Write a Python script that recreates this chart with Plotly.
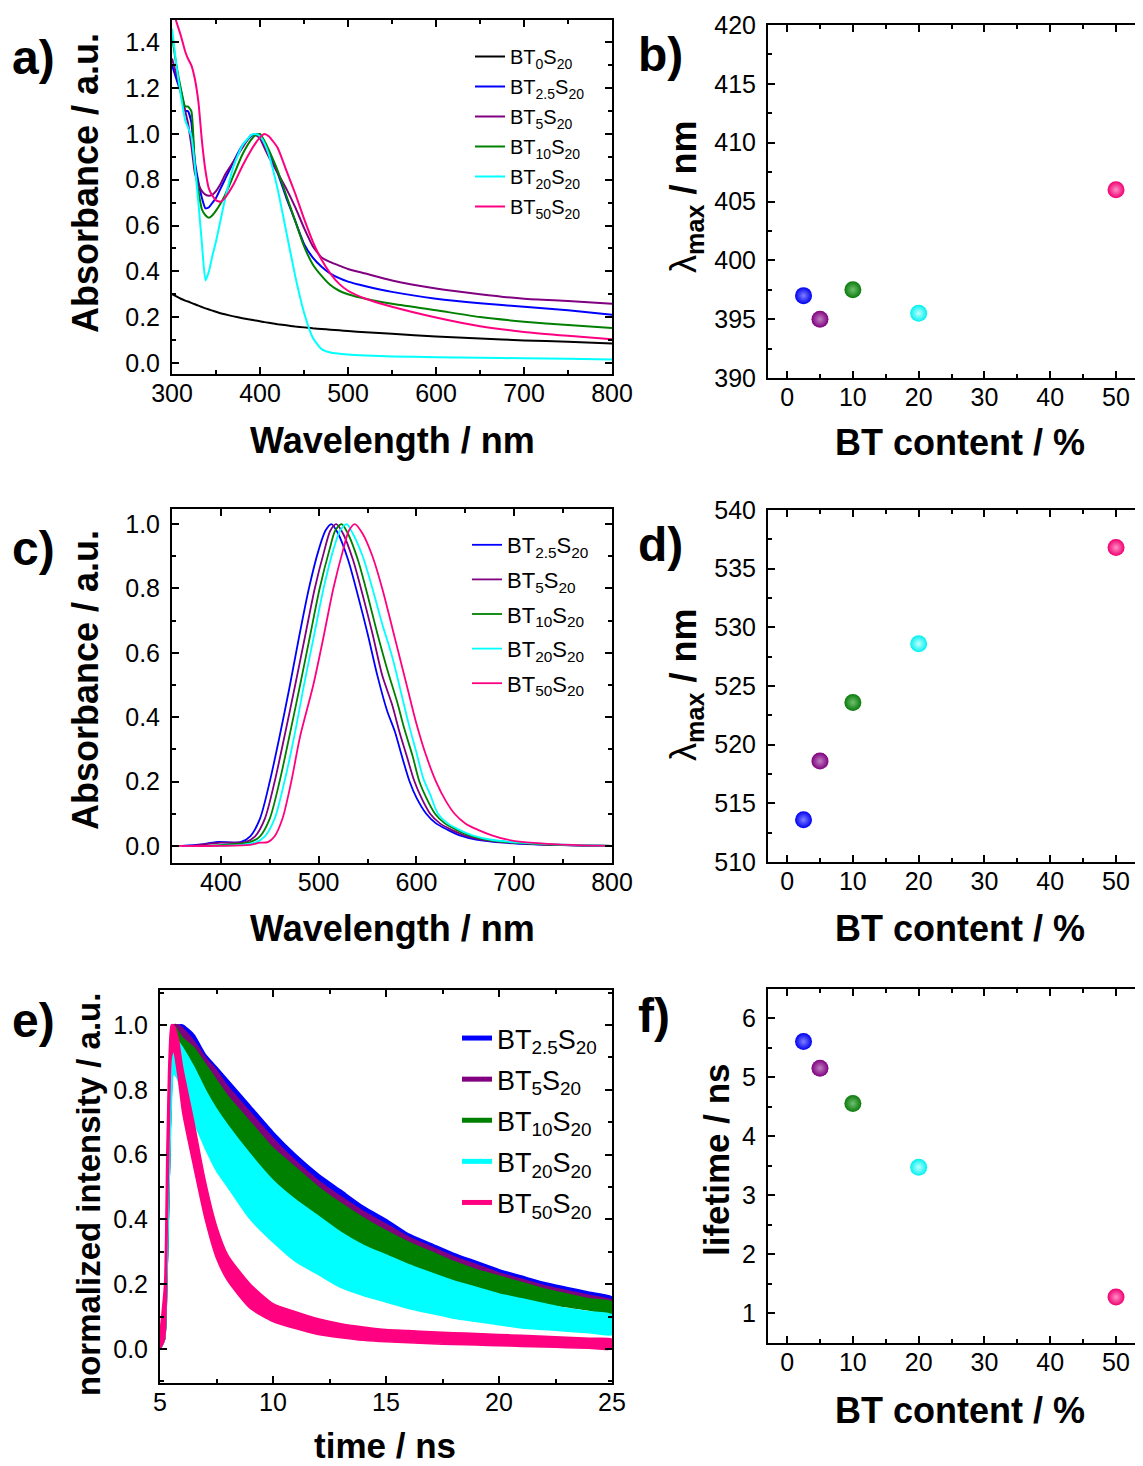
import plotly.graph_objects as go

# ---------------- DATA ----------------
SERIES_A = ["BT<sub>0</sub>S<sub>20</sub>", "BT<sub>2.5</sub>S<sub>20</sub>", "BT<sub>5</sub>S<sub>20</sub>",
            "BT<sub>10</sub>S<sub>20</sub>", "BT<sub>20</sub>S<sub>20</sub>", "BT<sub>50</sub>S<sub>20</sub>"]
COLORS_A = ["#000000", "#0000FF", "#800080", "#008000", "#00FFFF", "#FF0080"]

# panel a: absorbance spectra
WL_A = [300, 305, 310, 315, 318, 322, 326, 330, 334, 338, 342, 346, 350, 355, 360, 370, 380, 390, 395, 400,
        405, 410, 420, 430, 440, 450, 460, 470, 480, 490, 500, 520, 550, 600, 650, 700, 750, 800]
ABS_BT0 = [0.30, 0.29, 0.28, 0.272, 0.268, 0.262, 0.256, 0.25, 0.244, 0.238, 0.233, 0.228, 0.223, 0.217, 0.212,
           0.203, 0.195, 0.188, 0.185, 0.182, 0.178, 0.175, 0.169, 0.164, 0.159, 0.155, 0.151, 0.148, 0.145, 0.142,
           0.139, 0.134, 0.127, 0.115, 0.106, 0.098, 0.092, 0.085]
ABS_BT2_5 = [1.30, 1.24, 1.18, 1.10, 1.10, 1.05, 0.88, 0.79, 0.72, 0.675, 0.68, 0.70, 0.72, 0.76, 0.80, 0.88,
             0.95, 0.99, 1.0, 0.99, 0.96, 0.92, 0.83, 0.72, 0.62, 0.52, 0.46, 0.42, 0.39, 0.37, 0.355, 0.335,
             0.31, 0.28, 0.26, 0.245, 0.23, 0.21]
ABS_BT5 = [1.33, 1.26, 1.19, 1.10, 1.05, 0.95, 0.83, 0.78, 0.75, 0.735, 0.73, 0.735, 0.75, 0.78, 0.82, 0.88,
           0.94, 0.995, 0.995, 0.98, 0.94, 0.90, 0.83, 0.76, 0.68, 0.59, 0.51, 0.46, 0.44, 0.425, 0.41, 0.39,
           0.36, 0.325, 0.30, 0.28, 0.27, 0.258]
ABS_BT10 = [1.43, 1.30, 1.20, 1.12, 1.12, 1.10, 0.86, 0.75, 0.67, 0.645, 0.634, 0.645, 0.665, 0.695, 0.73,
            0.82, 0.91, 0.975, 0.995, 1.0, 0.97, 0.93, 0.84, 0.73, 0.62, 0.51, 0.43, 0.38, 0.34, 0.315, 0.30,
            0.28, 0.258, 0.23, 0.20, 0.18, 0.165, 0.152]
ABS_BT20 = [1.46, 1.30, 1.17, 1.06, 1.03, 0.99, 0.86, 0.70, 0.52, 0.36, 0.40, 0.47, 0.53, 0.62, 0.71, 0.86,
            0.95, 0.995, 1.0, 0.99, 0.96, 0.91, 0.76, 0.57, 0.38, 0.22, 0.11, 0.06, 0.045, 0.04, 0.036, 0.032,
            0.028, 0.025, 0.022, 0.02, 0.018, 0.015]
ABS_BT50 = [1.56, 1.49, 1.43, 1.36, 1.33, 1.30, 1.24, 1.14, 0.97, 0.84, 0.76, 0.73, 0.71, 0.704, 0.72, 0.78,
            0.86, 0.93, 0.96, 0.985, 1.0, 0.99, 0.94, 0.84, 0.74, 0.63, 0.53, 0.45, 0.39, 0.345, 0.315, 0.28,
            0.245, 0.198, 0.16, 0.135, 0.118, 0.103]

# panel c: emission spectra (own wavelength lists per series)
SERIES_C = SERIES_A[1:]
COLORS_C = COLORS_A[1:]
WL_C_BT2_5 = [360, 380, 395, 420, 430, 440, 450, 460, 470, 480, 490, 500, 507, 513, 520, 530, 540, 550, 560,
              570, 578, 585, 593, 600, 610, 620, 632, 645, 661, 690, 720, 800]
EM_BT2_5 = [0, 0.005, 0.012, 0.012, 0.03, 0.085, 0.2, 0.34, 0.49, 0.65, 0.8, 0.92, 0.98, 1.0, 0.97, 0.89, 0.78,
            0.66, 0.53, 0.42, 0.355, 0.28, 0.2, 0.15, 0.1, 0.07, 0.05, 0.032, 0.02, 0.01, 0.005, 0]
WL_C_BT5 = [370, 400, 425, 435, 445, 455, 465, 476, 486, 496, 506, 512, 518, 525, 535, 545, 555, 565, 575, 583,
            590, 598, 605, 614, 624, 636, 650, 666, 695, 725, 800]
EM_BT5 = [0, 0.01, 0.012, 0.03, 0.085, 0.2, 0.34, 0.5, 0.65, 0.8, 0.92, 0.98, 1.0, 0.97, 0.89, 0.78, 0.66, 0.53,
          0.44, 0.35, 0.28, 0.2, 0.15, 0.1, 0.07, 0.05, 0.032, 0.02, 0.01, 0.005, 0]
WL_C_BT10 = [380, 410, 430, 440, 450, 460, 470, 481, 491, 501, 511, 517, 523.5, 530, 540, 550, 560, 570, 580,
             588, 596, 603, 610, 619, 629, 641, 655, 671, 700, 730, 800]
EM_BT10 = [0, 0.005, 0.012, 0.03, 0.085, 0.2, 0.34, 0.5, 0.65, 0.8, 0.92, 0.98, 1.0, 0.97, 0.89, 0.78, 0.66,
           0.55, 0.45, 0.36, 0.28, 0.2, 0.15, 0.1, 0.07, 0.05, 0.032, 0.02, 0.01, 0.005, 0]
WL_C_BT20 = [390, 420, 435, 445, 455, 465, 475, 485, 495, 505, 515, 522, 528.6, 535, 545, 555, 565, 575, 584,
             592, 600, 607, 614, 622, 632, 644, 658, 675, 705, 740, 800]
EM_BT20 = [0, 0.003, 0.01, 0.03, 0.085, 0.2, 0.34, 0.5, 0.65, 0.8, 0.92, 0.98, 1.0, 0.97, 0.9, 0.8, 0.69, 0.59,
           0.48, 0.38, 0.29, 0.21, 0.16, 0.1, 0.07, 0.05, 0.032, 0.02, 0.01, 0.005, 0]
WL_C_BT50 = [350, 400, 430, 440, 448, 455, 463, 472, 481, 494.5, 505, 515, 525, 531, 537, 545, 555, 565, 578,
             590, 600, 610, 620, 630, 639, 650, 663, 678, 692, 710, 745, 800]
EM_BT50 = [0, 0, 0.003, 0.01, 0.012, 0.03, 0.085, 0.2, 0.34, 0.5, 0.65, 0.8, 0.92, 0.98, 1.0, 0.97, 0.9, 0.8,
           0.645, 0.5, 0.38, 0.28, 0.2, 0.14, 0.1, 0.07, 0.05, 0.032, 0.02, 0.012, 0.005, 0]

# panel e: fluorescence decay clouds (upper / lower edges of each point cloud)
T_E = [5.0, 5.2, 5.3, 5.4, 5.5, 5.6, 5.8, 6.0, 6.5, 7.0, 7.5, 8.0, 9, 10, 11, 12, 13, 14, 15, 16, 17, 18, 19,
       20, 21, 22, 23, 24, 25]
UP_BT2_5 = [0.04, 0.1, 0.4, 0.75, 0.95, 1.0, 1.0, 1.0, 0.97, 0.91, 0.87, 0.83, 0.75, 0.67, 0.6, 0.54, 0.49, 0.44,
            0.4, 0.355, 0.325, 0.295, 0.27, 0.245, 0.225, 0.205, 0.19, 0.175, 0.16]
LO_BT2_5 = [0.0, 0.03, 0.2, 0.5, 0.8, 0.9, 0.95, 0.95, 0.88, 0.82, 0.78, 0.74, 0.66, 0.58, 0.52, 0.46, 0.41, 0.37,
            0.33, 0.295, 0.265, 0.24, 0.215, 0.195, 0.175, 0.16, 0.145, 0.135, 0.12]
UP_BT5 = [0.04, 0.1, 0.4, 0.75, 0.95, 1.0, 1.0, 0.99, 0.95, 0.9, 0.86, 0.81, 0.73, 0.65, 0.58, 0.52, 0.47, 0.425,
          0.385, 0.345, 0.315, 0.285, 0.26, 0.235, 0.215, 0.195, 0.18, 0.165, 0.15]
LO_BT5 = [0.0, 0.03, 0.2, 0.5, 0.8, 0.9, 0.94, 0.93, 0.86, 0.8, 0.76, 0.72, 0.64, 0.56, 0.5, 0.445, 0.4, 0.36,
          0.32, 0.285, 0.255, 0.23, 0.21, 0.19, 0.17, 0.155, 0.14, 0.13, 0.115]
UP_BT10 = [0.04, 0.1, 0.4, 0.75, 0.95, 1.0, 0.98, 0.96, 0.93, 0.88, 0.83, 0.78, 0.7, 0.62, 0.56, 0.5, 0.45, 0.405,
           0.365, 0.33, 0.3, 0.27, 0.245, 0.225, 0.205, 0.185, 0.17, 0.155, 0.145]
LO_BT10 = [0.0, 0.03, 0.2, 0.5, 0.78, 0.88, 0.9, 0.88, 0.82, 0.76, 0.71, 0.66, 0.57, 0.48, 0.43, 0.39, 0.35, 0.315,
           0.285, 0.26, 0.235, 0.21, 0.19, 0.17, 0.155, 0.14, 0.13, 0.12, 0.105]
UP_BT20 = [0.04, 0.1, 0.4, 0.75, 0.93, 0.98, 0.95, 0.93, 0.87, 0.8, 0.74, 0.69, 0.6, 0.52, 0.46, 0.41, 0.36, 0.32,
           0.29, 0.26, 0.235, 0.21, 0.19, 0.17, 0.155, 0.14, 0.125, 0.115, 0.105]
LO_BT20 = [0.0, 0.03, 0.2, 0.5, 0.75, 0.85, 0.83, 0.78, 0.7, 0.62, 0.55, 0.5, 0.4, 0.33, 0.27, 0.23, 0.19, 0.165,
           0.145, 0.125, 0.11, 0.095, 0.085, 0.075, 0.065, 0.06, 0.055, 0.05, 0.045]
UP_BT50 = [0.05, 0.2, 0.6, 0.9, 1.0, 1.0, 0.96, 0.87, 0.7, 0.52, 0.38, 0.29, 0.2, 0.14, 0.115, 0.093, 0.078, 0.068,
           0.06, 0.057, 0.053, 0.05, 0.048, 0.045, 0.042, 0.039, 0.036, 0.033, 0.03]
LO_BT50 = [0.0, 0.03, 0.3, 0.65, 0.9, 0.92, 0.84, 0.73, 0.56, 0.4, 0.28, 0.21, 0.125, 0.085, 0.063, 0.045, 0.035,
           0.027, 0.022, 0.019, 0.016, 0.014, 0.012, 0.01, 0.008, 0.006, 0.004, 0.002, 0.0]

# panels b, d, f: values vs BT content
BT_CONTENT = [2.5, 5, 10, 20, 50]
LMAX_ABS = [397.0, 395.0, 397.5, 395.5, 406.0]
LMAX_EM = [513.6, 518.6, 523.6, 528.6, 536.8]
LIFETIME = [5.6, 5.15, 4.55, 3.47, 1.27]
DOT_COLORS = ["#0000F0", "#800080", "#0A7A0A", "#00F0F0", "#F00070"]
DOT_LIGHT = ["#8080FF", "#C080C0", "#70C070", "#C0FFFF", "#FF90C8"]

# ---------------- FIGURE ----------------
# the page places the figure 8 px from the window's top-left corner
OFF = 8
W, H = 1143 - OFF, 1466 - OFF
FONT = "Liberation Sans, Arial, sans-serif"


def px_x(p):
    return (p - OFF) / W


def px_y(p):
    return 1 - (p - OFF) / H


fig = go.Figure()

# panel a
for name, col, ys in zip(SERIES_A, COLORS_A, [ABS_BT0, ABS_BT2_5, ABS_BT5, ABS_BT10, ABS_BT20, ABS_BT50]):
    fig.add_trace(go.Scatter(x=WL_A, y=ys, mode="lines", name=name,
                             line=dict(color=col, width=2, shape="spline", smoothing=0.5),
                             xaxis="x", yaxis="y", legend="legend", legendgroup="a" + name))

# panel c
for name, col, xs, ys in zip(SERIES_C, COLORS_C,
                             [WL_C_BT2_5, WL_C_BT5, WL_C_BT10, WL_C_BT20, WL_C_BT50],
                             [EM_BT2_5, EM_BT5, EM_BT10, EM_BT20, EM_BT50]):
    fig.add_trace(go.Scatter(x=xs, y=ys, mode="lines", name=name,
                             line=dict(color=col, width=1.8, shape="spline", smoothing=0.8),
                             xaxis="x3", yaxis="y3", legend="legend2", legendgroup="c" + name))

# panel e clouds
E_COLORS = ["#0000FF", "#800080", "#008000", "#00FFFF", "#FF0080"]
for col, up, lo in zip(E_COLORS, [UP_BT2_5, UP_BT5, UP_BT10, UP_BT20, UP_BT50],
                       [LO_BT2_5, LO_BT5, LO_BT10, LO_BT20, LO_BT50]):
    fig.add_trace(go.Scatter(x=T_E + T_E[::-1], y=up + lo[::-1], mode="lines", fill="toself",
                             fillcolor=col, line=dict(color=col, width=1.5, shape="spline", smoothing=0.6),
                             showlegend=False, xaxis="x5", yaxis="y5", hoverinfo="skip"))
for name, col in zip(SERIES_C, E_COLORS):
    fig.add_trace(go.Scatter(x=[None], y=[None], mode="lines", name=name, line=dict(color=col, width=5),
                             xaxis="x5", yaxis="y5", legend="legend3", legendgroup="e" + name))

# panels b, d, f
for xa, ya, vals in [("x2", "y2", LMAX_ABS), ("x4", "y4", LMAX_EM), ("x6", "y6", LIFETIME)]:
    fig.add_trace(go.Scatter(x=BT_CONTENT, y=vals, mode="markers", showlegend=False, xaxis=xa, yaxis=ya,
                             marker=dict(size=17, color=DOT_COLORS, line=dict(width=0),
                                         gradient=dict(type="radial", color=DOT_LIGHT))))


def axis(domain, rng, dtick, minor, anchor, tick0=0, fmt=None, standoff=5):
    d = dict(domain=domain, range=rng, dtick=dtick, tick0=tick0, anchor=anchor, automargin=False,
             showline=True, linewidth=2, linecolor="black", mirror="ticks",
             ticks="inside", ticklen=7, tickwidth=2, tickcolor="black", ticklabelstandoff=standoff,
             minor=dict(dtick=minor, tick0=tick0, ticks="inside", ticklen=4, tickwidth=2, tickcolor="black"),
             showgrid=False, zeroline=False,
             tickfont=dict(family=FONT, size=25, color="black"))
    if fmt:
        d["tickformat"] = fmt
    return d


XL = [px_x(172), px_x(612)]
XR = [px_x(768), 1.0]
RIGHT_RANGE = [-2.9, 54.1]
XS = -4

fig.update_layout(
    template="none",
    width=W, height=H, margin=dict(l=0, r=0, t=0, b=0, autoexpand=False),
    paper_bgcolor="white", plot_bgcolor="white",
    font=dict(family=FONT, color="black"),
    xaxis=axis(XL, [300, 800], 100, 50, "y", standoff=XS),
    yaxis=axis([px_y(374.3), px_y(19.5)], [-0.05, 1.5], 0.2, 0.1, "x", fmt=".1f"),
    xaxis2=axis(XR, RIGHT_RANGE, 10, 5, "y2", standoff=XS),
    yaxis2=axis([px_y(378), px_y(25)], [390, 420], 5, 2.5, "x2"),
    xaxis3=axis(XL, [350, 800], 100, 50, "y3", tick0=400, standoff=XS),
    yaxis3=axis([px_y(863.3), px_y(509)], [-0.054, 1.047], 0.2, 0.1, "x3", fmt=".1f"),
    xaxis4=axis(XR, RIGHT_RANGE, 10, 5, "y4", standoff=XS),
    yaxis4=axis([px_y(862), px_y(510)], [510, 540], 5, 2.5, "x4"),
    xaxis5=axis([px_x(160), px_x(612)], [5, 25], 5, 2.5, "y5", standoff=XS),
    yaxis5=axis([px_y(1383), px_y(990)], [-0.105, 1.108], 0.2, 0.1, "x5", fmt=".1f"),
    xaxis6=axis(XR, RIGHT_RANGE, 10, 5, "y6", standoff=XS),
    yaxis6=axis([px_y(1342.5), px_y(988.5)], [0.5, 6.5], 1, 0.5, "x6"),
    legend=dict(x=px_x(470), y=px_y(37), xanchor="left", yanchor="top", bgcolor="rgba(0,0,0,0)",
                font=dict(family=FONT, size=20, color="black"), tracegroupgap=1, traceorder="grouped"),
    legend2=dict(x=px_x(467), y=px_y(524), xanchor="left", yanchor="top", bgcolor="rgba(0,0,0,0)",
                 font=dict(family=FONT, size=22, color="black"), tracegroupgap=3, traceorder="grouped"),
    legend3=dict(x=px_x(457), y=px_y(1014), xanchor="left", yanchor="top", bgcolor="rgba(0,0,0,0)",
                 font=dict(family=FONT, size=27, color="black"), tracegroupgap=3, traceorder="grouped"),
)

ann = []


def label(text, x, y, size=48):
    ann.append(dict(text="<b>%s</b>" % text, x=px_x(x), y=px_y(y), xref="paper", yref="paper",
                    xanchor="left", yanchor="middle", showarrow=False,
                    font=dict(family=FONT, size=size, color="black")))


def title(text, x, y, angle=0, size=36):
    ann.append(dict(text=text, x=px_x(x), y=px_y(y), xref="paper", yref="paper",
                    xanchor="center", yanchor="middle", showarrow=False, textangle=angle,
                    font=dict(family=FONT, size=size, color="black")))


label("a)", 10, 57)
label("b)", 636, 55)
label("c)", 10, 548)
label("d)", 636, 545)
label("e)", 10, 1020)
label("f)", 636, 1015)

LAMBDA_TITLE = "λ<sub><b>max</b></sub><b> / nm</b>"
title("<b>Absorbance / a.u.</b>", 85, 183, -90)
title("<b>Wavelength / nm</b>", 392, 440)
title(LAMBDA_TITLE, 686, 197, -90, 36)
title("<b>BT content / %</b>", 960, 443)
title("<b>Absorbance / a.u.</b>", 85, 680, -90)
title("<b>Wavelength / nm</b>", 392, 928)
title(LAMBDA_TITLE, 686, 685, -90, 36)
title("<b>BT content / %</b>", 960, 928)
title("<b>normalized intensity / a.u.</b>", 88, 1195, -90, 33)
title("<b>time / ns</b>", 385, 1445, 0, 35)
title("<b>lifetime / ns</b>", 716, 1160, -90, 35)
title("<b>BT content / %</b>", 960, 1410)

fig.update_layout(annotations=ann)
fig.write_html("out.html")
